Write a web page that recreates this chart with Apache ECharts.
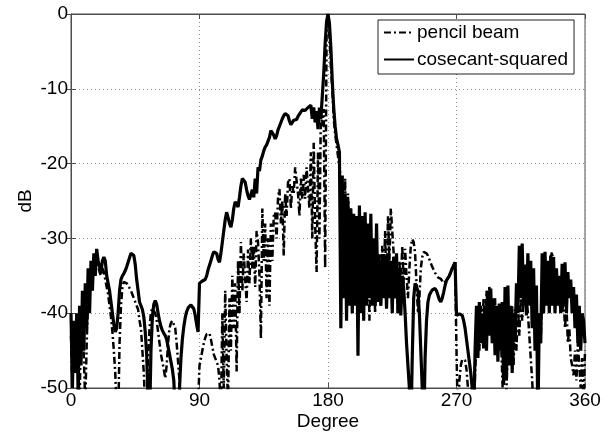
<!DOCTYPE html>
<html>
<head>
<meta charset="utf-8">
<script src="https://cdn.jsdelivr.net/npm/echarts@6/dist/echarts.min.js"></script>
<style>
  html, body { margin: 0; padding: 0; background: #fff; }
  #chart { width: 609px; height: 436px; }
</style>
</head>
<body>
<div id="chart"></div>
<script>
// Radiation patterns sampled every degree, 0..360 (dB, normalised to the main beam)
const ANGLE_STEP = 1;
const xTicks = [0, 90, 180, 270, 360];
const yTicks = [-50, -40, -30, -20, -10, 0];
const seriesNames = ['pencil beam', 'cosecant-squared'];

const pencilBeam = [
  -43, -50, -42, -47, -41, -46, -52, -42, -40, -46,
  -52, -44, -38, -36.5, -35.5, -35, -33.5, -34, -33, -33.5,
  -34.5, -35, -34, -34.5, -35.5, -36.5, -37.5, -39, -40.5, -42.5,
  -45, -48, -53, -55, -44, -39, -36.5, -35.8, -35.8, -36,
  -36.3, -36.5, -37, -37.5, -38, -38.5, -39, -39.5, -41, -42,
  -45, -48, -53, -55, -46, -42, -39.8, -39.4, -39.5, -40,
  -41, -42.5, -44, -45.5, -46.5, -47.5, -48.7, -47, -44, -42,
  -41.3, -41, -41.2, -42, -44, -46.5, -49, -52, -58, -60,
  -60, -60, -60, -60, -60, -60, -60, -60, -58, -52,
  -47, -46, -45, -44, -43.3, -42.8, -42.7, -42.7, -43.5, -44.5,
  -45.5, -46, -46.5, -47, -49, -53, -40, -50, -37, -46,
  -52, -38, -45, -35, -42, -36, -47.8, -33, -40, -30.5,
  -37, -32, -35.4, -38.5, -31.5, -36, -30, -34, -31, -36.5,
  -29, -30.5, -35, -43.4, -26, -33, -28, -38, -30, -39,
  -28, -33, -27, -26.5, -30, -24.5, -23.4, -28, -25, -32.3,
  -24, -27, -22.5, -22, -26, -23, -24, -20.5, -20.5, -24,
  -27, -22, -24.7, -21.5, -24.7, -20.5, -20.3, -26, -18.5, -30,
  -17.2, -28, -34.5, -18.5, -30, -13.1, -15, -12.7, -34, -3,
  0, -3, -7, -10, -14, -16, -17.5, -19, -20.5, -22,
  -23.4, -36, -22, -38, -24, -34, -26, -40, -27, -35,
  -28, -42, -27, -38, -29, -40, -28, -36, -30, -41,
  -31, -37, -32, -40, -33, -38, -32, -39, -31, -36,
  -29, -38, -27, -33, -26, -29, -32, -38, -35, -40,
  -33, -37, -31, -36, -31.4, -35, -38, -34, -31, -30.1,
  -30.5, -32, -36, -40, -38, -34, -32.5, -31.8, -31.8, -32,
  -32.3, -32.8, -33.3, -33.8, -34.2, -34.6, -34.9, -35.2, -35.4, -35.4,
  -35.3, -36, -36, -35.6, -35.4, -35, -34.5, -34, -33.6, -33.2,
  -45, -55, -49, -47, -46.2, -46, -46.3, -47.5, -50, -55,
  -60, -60, -56, -48, -44, -41, -45, -39, -42, -38,
  -44, -37, -40, -36.5, -38, -40, -44, -38, -45, -39.5,
  -39.8, -43, -48, -55, -58, -50, -44, -41, -46, -39,
  -47, -39.5, -45, -39, -43, -38, -41, -38.5, -37.5, -38,
  -40, -43, -46, -49, -53, -58, -55, -46, -40, -44,
  -36, -40, -34, -37, -33, -36, -32.5, -31.8, -34, -35,
  -38, -36.7, -39, -37, -40, -38, -42, -39, -44, -42,
  -46, -47, -48.3, -45, -49, -44, -47, -50, -46, -52,
  -45
];

const cosecantSquared = [
  -40, -50, -41, -48, -40, -51, -39, -47, -37, -45,
  -36, -42, -34, -40, -33, -37, -32, -35, -31.4, -33,
  -33, -34.5, -33, -32.5, -33, -35, -36, -37, -38.5, -40,
  -41.5, -42.5, -42, -40, -37, -35.5, -35, -34.7, -34.3, -33.8,
  -33.2, -32.6, -32, -31.8, -32.3, -33.5, -35.5, -37, -38.5, -39,
  -39.5, -40.5, -42.5, -45.5, -52, -55, -45, -40.5, -38.8, -38.3,
  -38.8, -40, -41, -41.8, -42.3, -42.7, -43, -43.5, -44.5, -45.5,
  -46.5, -47.5, -49, -53, -58, -56, -50, -46, -43.5, -41.8,
  -40.6, -39.8, -39.3, -39.1, -38.9, -38.9, -39.4, -40.3, -41.5, -42.5,
  -36, -35.8, -35.7, -35.6, -35.5, -35, -34.2, -33.6, -33, -32.3,
  -31.8, -31.6, -32, -32.8, -33.2, -32, -30.5, -29, -27.5, -26.5,
  -27.2, -28, -28.5, -27.5, -26, -25.1, -25.4, -25.8, -24.5, -23,
  -22, -21.8, -22.5, -23.5, -24.3, -24.8, -25, -23.5, -24.5, -22,
  -24, -20.5, -21, -19.5, -19, -18.3, -17.8, -17.5, -17.6, -16.5,
  -15.6, -15.5, -16.2, -16.7, -16.3, -15.5, -15, -14.5, -14, -13.6,
  -13.3, -13.1, -13.6, -14.3, -14.8, -14.6, -14.2, -14, -14.1, -13.7,
  -13.4, -13.1, -12.8, -12.7, -12.9, -13, -12.5, -12.3, -12.2, -14,
  -12.5, -14.5, -13, -15.4, -12.5, -14, -11, -8, -4, -1,
  0, -1.2, -4.5, -9, -12.5, -15, -16.7, -17.5, -18.5, -42,
  -21.6, -38, -24, -41, -25, -39, -26, -40, -26.7, -39,
  -27, -45.7, -25.6, -40, -27, -41, -26.5, -39, -28, -38,
  -26.7, -39, -30, -39, -28, -38.5, -33, -39, -32.5, -38,
  -32.3, -39.4, -32, -38, -33, -40, -32.5, -38, -32, -40,
  -34, -40.3, -35, -36.7, -40, -44, -47, -50, -56, -46,
  -38, -36, -35.8, -37, -40, -45, -50, -56, -46, -41,
  -38.5, -37.6, -37.2, -36.9, -36.7, -36.7, -37, -37.6, -38.2, -38.5,
  -38, -37.2, -36.3, -35.6, -35.4, -35, -34.5, -34, -33.6, -33.2,
  -40.3, -40.3, -40.1, -40, -40.3, -41, -42, -43.5, -45, -46.5,
  -48, -50, -55, -45, -39, -46, -38.5, -44, -40, -44.7,
  -39, -45, -37, -43, -36.7, -44, -38, -45.6, -39, -46.5,
  -38.7, -45, -38.5, -49.6, -36.5, -49, -36.3, -47, -39, -48,
  -40, -43.8, -36, -40, -31, -38, -30.7, -39, -33.5, -40.3,
  -32, -39, -33, -42, -34, -45, -36.3, -55, -40, -44,
  -32, -40, -31.8, -39, -33, -40, -32.3, -39, -32.5, -40,
  -34, -39, -35, -40, -33.4, -39, -33.2, -40, -34.5, -38,
  -35.5, -40, -36.5, -42, -37.5, -44, -39, -45, -40, -41,
  -44
];

const toPairs = (vals) => vals.map((v, i) => [i * ANGLE_STEP, v]);

const FONT = 'Liberation Sans, Arial, sans-serif';
const AXIS_COLOR = '#4d4d4d';
const GRID_LINE = { show: true, lineStyle: { color: '#8c8c8c', type: [1, 3], width: 1 } };

const chart = echarts.init(document.getElementById('chart'), null, { renderer: 'canvas' });

chart.setOption({
  animation: false,
  backgroundColor: '#fff',
  grid: {
    left: 71, top: 14, width: 514, height: 375,
    show: true, borderColor: AXIS_COLOR, borderWidth: 1
  },
  legend: {
    data: seriesNames,
    orient: 'vertical',
    left: 378, top: 20,
    width: 202,
    padding: [3, 6, 5, 5],
    itemWidth: 30, itemHeight: 14, itemGap: 8,
    itemStyle: { opacity: 0 },
    backgroundColor: '#fff',
    borderColor: '#222', borderWidth: 1, borderRadius: 0,
    textStyle: { fontFamily: FONT, fontSize: 19, color: '#000', padding: [0, 0, 0, -2] }
  },
  xAxis: [{
    type: 'value', min: 0, max: 360, interval: 90,
    name: 'Degree', nameLocation: 'middle', nameGap: 24, nameMoveOverlap: false,
    nameTextStyle: { fontFamily: FONT, fontSize: 19, color: '#000' },
    axisLine: { show: true, onZero: false, lineStyle: { color: AXIS_COLOR } },
    axisTick: { show: true, inside: true, length: 5, lineStyle: { color: AXIS_COLOR } },
    axisLabel: { fontFamily: FONT, fontSize: 19, color: '#000', margin: 3 },
    splitLine: GRID_LINE
  }, {
    type: 'value', min: 0, max: 360, interval: 90, position: 'top',
    axisLine: { show: true, lineStyle: { color: AXIS_COLOR } },
    axisTick: { show: true, inside: true, length: 5, lineStyle: { color: AXIS_COLOR } },
    axisLabel: { show: false }, splitLine: { show: false }
  }],
  yAxis: [{
    type: 'value', min: -50, max: 0, interval: 10,
    name: 'dB', nameLocation: 'middle', nameGap: 36, nameRotate: 90, nameMoveOverlap: false,
    nameTextStyle: { fontFamily: FONT, fontSize: 19, color: '#000' },
    axisLine: { show: true, onZero: false, lineStyle: { color: AXIS_COLOR } },
    axisTick: { show: true, inside: true, length: 5, lineStyle: { color: AXIS_COLOR } },
    axisLabel: { fontFamily: FONT, fontSize: 19, color: '#000', margin: 3 },
    splitLine: GRID_LINE
  }, {
    type: 'value', min: -50, max: 0, interval: 10, position: 'right',
    axisLine: { show: true, lineStyle: { color: AXIS_COLOR } },
    axisTick: { show: true, inside: true, length: 5, lineStyle: { color: AXIS_COLOR } },
    axisLabel: { show: false }, splitLine: { show: false }
  }],
  series: [{
    name: seriesNames[0],
    type: 'line',
    data: toPairs(pencilBeam),
    symbol: 'none',
    clip: true,
    lineStyle: { color: '#000', width: 2.5, type: [7, 3, 2, 3] },
    itemStyle: { color: '#000' },
    z: 3
  }, {
    name: seriesNames[1],
    type: 'line',
    data: toPairs(cosecantSquared),
    symbol: 'none',
    clip: true,
    lineStyle: { color: '#000', width: 3.2, type: 'solid' },
    itemStyle: { color: '#000' },
    z: 2
  }]
});
</script>
</body>
</html>
